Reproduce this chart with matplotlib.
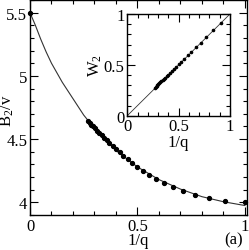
import matplotlib
matplotlib.use("Agg")
import matplotlib.pyplot as plt
from matplotlib.ticker import MultipleLocator

plt.rcParams['font.family'] = ['Liberation Serif', 'DejaVu Serif']
plt.rcParams['mathtext.fontset'] = 'custom'
plt.rcParams['mathtext.rm'] = 'Liberation Serif'
plt.rcParams['mathtext.default'] = 'regular'
plt.rcParams['font.size'] = 12

# theory curve, B2/v vs 1/q
line_x = [0.0, 0.025, 0.05, 0.075, 0.1, 0.15, 0.2, 0.25, 0.3, 0.4, 0.5, 0.6, 0.7, 0.8, 0.9, 1.0]
line_y = [5.50, 5.40, 5.29, 5.19, 5.10, 4.95, 4.82, 4.69, 4.585, 4.41, 4.28, 4.18, 4.105, 4.045, 4.005, 3.975]

# simulation points, 1/q for q = 1.0 ... 3.7 plus the q -> inf point
inv_q = [0.0, 0.270, 0.278, 0.286, 0.294, 0.303, 0.3125, 0.323, 0.333, 0.345, 0.357,
         0.370, 0.385, 0.400, 0.417, 0.435, 0.4545, 0.476, 0.500, 0.526, 0.556,
         0.588, 0.625, 0.667, 0.714, 0.769, 0.833, 0.909, 1.0]
b2_v = [5.50, 4.645, 4.63, 4.615, 4.60, 4.585, 4.565, 4.55, 4.53, 4.51, 4.49,
        4.47, 4.445, 4.42, 4.395, 4.37, 4.34, 4.31, 4.28, 4.25, 4.22,
        4.185, 4.15, 4.12, 4.09, 4.06, 4.035, 4.01, 4.0]

# inset: W2 vs 1/q
w2_x = [0.270, 0.278, 0.286, 0.294, 0.303, 0.3125, 0.323, 0.333, 0.345, 0.357,
        0.370, 0.385, 0.400, 0.417, 0.435, 0.4545, 0.476, 0.500, 0.526, 0.556,
        0.588, 0.625, 0.667, 0.714, 0.769, 0.833, 0.909]
w2_y = [0.275, 0.283, 0.291, 0.299, 0.308, 0.318, 0.328, 0.338, 0.350, 0.362,
        0.375, 0.390, 0.405, 0.422, 0.440, 0.459, 0.481, 0.505, 0.531, 0.561,
        0.593, 0.630, 0.672, 0.719, 0.774, 0.838, 0.912]
diag = [0.0, 1.0]


def style(ax, major, minor):
    ax.tick_params(which='both', direction='in', top=True, right=True, width=0.8, pad=2)
    ax.tick_params(which='major', length=6)
    ax.tick_params(which='minor', length=3)
    ax.xaxis.set_major_locator(MultipleLocator(0.5))
    ax.xaxis.set_minor_locator(MultipleLocator(0.1))
    ax.yaxis.set_major_locator(MultipleLocator(major))
    ax.yaxis.set_minor_locator(MultipleLocator(minor))
    for s in ax.spines.values():
        s.set_linewidth(1.0)


fig = plt.figure(figsize=(2.49, 2.51), dpi=100)
ax = fig.add_axes([30 / 249, 1 - 216 / 251, 217 / 249, 215 / 251])
ax.plot(line_x, line_y, color='#333333', lw=0.8)
ax.plot(inv_q, b2_v, 'o', color='black', ms=2.8, clip_on=False)
ax.set_xlim(0, 1.01)
ax.set_ylim(3.9, 5.6)
style(ax, 0.5, 0.1)
ax.set_xticks([0, 0.5, 1])
ax.set_xticklabels(['0', '0.5', '1'])
ax.set_yticks([4, 4.5, 5, 5.5])
ax.set_yticklabels(['4', '4.5', '5', '5.5'])
ax.set_xlabel('1/q', labelpad=-1)
ax.set_ylabel('B$_2$/v')
ax.yaxis.set_label_coords(-0.065, 0.49)
fig.text(234 / 249, 1 - 240 / 251, '(a)', ha='center', va='center', fontsize=12)

ins = fig.add_axes([127.3 / 249, 1 - 116.7 / 251, 102.7 / 249, 101.7 / 251])
ins.plot(diag, diag, color='#333333', lw=0.6)
ins.plot(w2_x, w2_y, 'o', color='black', ms=1.6)
ins.set_xlim(0, 1)
ins.set_ylim(0, 1)
style(ins, 0.5, 0.1)
ins.set_xticks([0, 0.5, 1])
ins.set_xticklabels(['0', '0.5', '1'])
ins.set_yticks([0, 0.5, 1])
ins.set_yticklabels(['0', '0.5', '1'])
ins.set_xlabel('1/q', labelpad=0)
ins.set_ylabel('W$_2$', labelpad=0)

fig.savefig('out.png', dpi=100)
